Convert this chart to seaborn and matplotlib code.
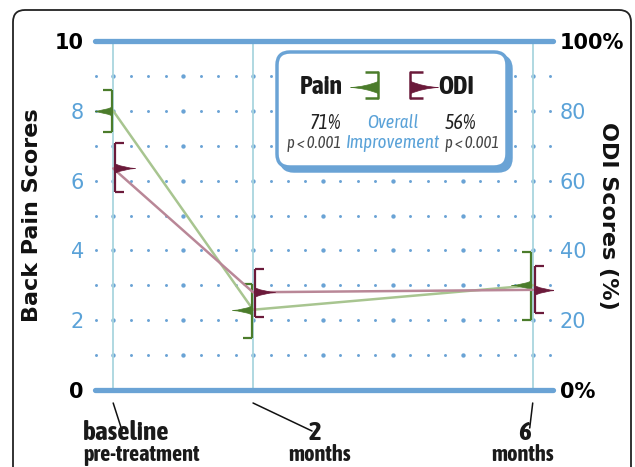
import numpy as np
import pandas as pd
import matplotlib
matplotlib.use('Agg')
import matplotlib.pyplot as plt
import matplotlib.transforms as mtransforms
from matplotlib.path import Path
from matplotlib.lines import Line2D
from matplotlib.patches import FancyBboxPatch
from matplotlib import font_manager
import seaborn as sns

# values
months = [0, 2, 6]
pain_mean = [8.0, 2.3, 3.0]
pain_low = [7.4, 1.5, 2.0]
pain_high = [8.6, 3.05, 3.95]
odi_mean = [63.5, 28.0, 28.7]
odi_low = [56.8, 20.8, 22.0]
odi_high = [70.7, 34.6, 35.6]

pain_ticks = [0, 2, 4, 6, 8, 10]
pain_ticklabels = ['0', '2', '4', '6', '8', '10']
odi_ticks = [0, 20, 40, 60, 80, 100]
odi_ticklabels = ['0%', '20', '40', '60', '80', '100%']
time_labels = ['baseline', '2', '6']
time_sublabels = ['pre-treatment', 'months', 'months']
pain_improvement = ['71%', 'p < 0.001']
odi_improvement = ['56%', 'p < 0.001']

BLUE = '#6aa3d5'
TICKBLUE = '#5aa2d8'
VLINE = '#a9d5de'
GREEN = '#4b7c2b'
GREEN_LINE = '#a8c590'
MAROON = '#6b1a3a'
MAROON_LINE = '#b98797'

sns.set_style('white')
names = {f.name for f in font_manager.fontManager.ttflist}
COND = 'DejaVu Sans'
for cand in ['Asap Condensed', 'Archivo Narrow', 'Barlow Condensed', 'Liberation Sans Narrow']:
    if cand in names:
        COND = cand
        break
plt.rcParams['font.family'] = ['DejaVu Sans']

# marker shapes
flag_left = Path([(0, 0.22), (-0.45, 0.03), (-1, 0), (-0.45, -0.03), (0, -0.22), (0, 0.22)],
                 [Path.MOVETO, Path.CURVE3, Path.CURVE3, Path.CURVE3, Path.CURVE3, Path.CLOSEPOLY])
flag_right = Path([(-x, y) for x, y in flag_left.vertices], flag_left.codes)
cap_left = Path([(0, 0), (-1, 0)], [Path.MOVETO, Path.LINETO])
cap_right = Path([(0, 0), (1, 0)], [Path.MOVETO, Path.LINETO])

fig = plt.figure(figsize=(6.35, 4.67), dpi=100)
ax = fig.add_axes([95 / 635, 1 - 390 / 467, 458 / 635, 349 / 467])
ax2 = ax.twinx()

def P(x, y):
    # pixel position in the picture -> inches for dpi_scale_trans
    return (x / 100, (467 - y) / 100)

# outer frame
x0, y0 = P(13, 490)
x1, y1 = P(631, 10)
fig.add_artist(FancyBboxPatch((x0, y0), x1 - x0, y1 - y0, boxstyle='round,pad=0,rounding_size=0.12',
                              transform=fig.dpi_scale_trans, fc='none', ec='#222222', lw=1.3))

ax.set_xlim(-0.26, 6.29)
ax.set_ylim(0, 10)
ax2.set_ylim(0, 100)
for a in (ax, ax2):
    for s in a.spines.values():
        s.set_visible(False)
    a.patch.set_visible(False)

# dotted background grid
gx, gy = np.meshgrid(np.arange(-0.25, 6.26, 0.25), np.arange(1, 10))
big = np.isclose(gx % 1, 0)
ax.scatter(gx[~big], gy[~big], s=4.5, color=BLUE, lw=0, zorder=1)
ax.scatter(gx[big], gy[big], s=10, color=BLUE, lw=0, zorder=1)

for m in months:
    ax.axvline(m, color=VLINE, lw=1.3, zorder=1)
for yv in (0, 10):
    ax.axhline(yv, color=BLUE, lw=3.8, solid_capstyle='round', clip_on=False, zorder=2)

# lines
df_pain = pd.DataFrame({'month': months, 'score': pain_mean})
df_odi = pd.DataFrame({'month': months, 'score': odi_mean})
sns.lineplot(data=df_pain, x='month', y='score', ax=ax, color=GREEN_LINE, lw=1.8, zorder=3)
sns.lineplot(data=df_odi, x='month', y='score', ax=ax2, color=MAROON_LINE, lw=1.8, zorder=3)

# error brackets and flags
off_p = mtransforms.offset_copy(ax.transData, fig=fig, x=-1.5, y=0, units='dots')
off_o = mtransforms.offset_copy(ax2.transData, fig=fig, x=2, y=0, units='dots')
ax.vlines(months, pain_low, pain_high, colors=GREEN, lw=1.6, transform=off_p, zorder=5)
ax2.vlines(months, odi_low, odi_high, colors=MAROON, lw=1.6, transform=off_o, zorder=5)
for yy in (pain_low, pain_high):
    ax.plot(months, yy, ls='none', marker=cap_left, ms=13, mec=GREEN, mfc='none', mew=1.6,
            transform=off_p, zorder=5)
for yy in (odi_low, odi_high):
    ax2.plot(months, yy, ls='none', marker=cap_right, ms=13, mec=MAROON, mfc='none', mew=1.6,
             transform=off_o, zorder=5)
ax.plot(months, pain_mean, ls='none', marker=flag_left, ms=29, color=GREEN, mec=GREEN, mew=0.5,
        transform=off_p, zorder=6)
ax2.plot(months, odi_mean, ls='none', marker=flag_right, ms=29, color=MAROON, mec=MAROON, mew=0.5,
         transform=off_o, zorder=6)

# y axes
ax.set_yticks(pain_ticks, pain_ticklabels)
ax.tick_params(axis='y', length=0, pad=8, labelsize=15)
for lab, t in zip(ax.get_yticklabels(), pain_ticks):
    if t in (0, 10):
        lab.set_fontweight('bold')
        lab.set_color('black')
    else:
        lab.set_color(TICKBLUE)
ax2.set_yticks(odi_ticks, odi_ticklabels)
ax2.tick_params(axis='y', length=0, pad=5, labelsize=15)
for lab, t in zip(ax2.get_yticklabels(), odi_ticks):
    if t in (0, 100):
        lab.set_fontweight('bold')
        lab.set_color('black')
    else:
        lab.set_color(TICKBLUE)
ax.set_ylabel('Back Pain Scores', fontsize=16, fontweight='bold', color='#111111')
ax.yaxis.set_label_coords(-0.116, 0.5)
ax2.set_ylabel('ODI Scores (%)', fontsize=16, fontweight='bold', rotation=270, va='center',
               color='#111111')
ax2.yaxis.set_label_coords(1.12, 0.5)

# x axis: minor ticks and custom labels
ax.set_xticks(np.arange(0, 6.01, 0.25), labels=[])
ax.tick_params(axis='x', direction='out', length=5.5, width=1.3, color=BLUE)
ax.set_xlabel('')
xt = ax.get_xaxis_transform()
lead_ends = [(9, -28), (59, -28), (-3, -25)]
main_pos = [(-30, -42, 'left'), (62, -43, 'center'), (-8, -43, 'center')]
sub_pos = [(-30, -65, 'left'), (67, -65, 'center'), (-10, -65, 'center')]
for m, lab, sub, le, mp, sp in zip(months, time_labels, time_sublabels, lead_ends, main_pos, sub_pos):
    start = xt + mtransforms.ScaledTranslation(0, -13 / 100, fig.dpi_scale_trans)
    ax.annotate('', xy=(m, 0), xycoords=start, xytext=le, textcoords='offset pixels',
                arrowprops=dict(arrowstyle='-', color='#111111', lw=1.1, shrinkA=0, shrinkB=0))
    ax.annotate(lab, xy=(m, 0), xycoords=xt, xytext=mp[:2], textcoords='offset pixels',
                ha=mp[2], va='center', fontsize=19.5, fontweight='bold', family=COND, color='#1a1a1a',
                annotation_clip=False)
    ax.annotate(sub, xy=(m, 0), xycoords=xt, xytext=sp[:2], textcoords='offset pixels',
                ha=sp[2], va='center', fontsize=16, fontweight='bold', family=COND, color='#1a1a1a',
                annotation_clip=False)

# legend box
bx0, by0 = P(277, 167)
bx1, by1 = P(507, 52)
fig.add_artist(FancyBboxPatch((bx0 + 0.04, by0 - 0.04), bx1 - bx0, by1 - by0,
                              boxstyle='round,pad=0,rounding_size=0.13', transform=fig.dpi_scale_trans,
                              fc=BLUE, ec=BLUE, lw=2.5))
fig.add_artist(FancyBboxPatch((bx0, by0), bx1 - bx0, by1 - by0,
                              boxstyle='round,pad=0,rounding_size=0.13', transform=fig.dpi_scale_trans,
                              fc='white', ec=BLUE, lw=2.5))
tr = fig.dpi_scale_trans
fig.text(*P(343, 87), 'Pain', transform=tr, ha='right', va='center', fontsize=18.5, fontweight='bold',
         family=COND, color='#1a1a1a')
fig.text(*P(438, 87), 'ODI', transform=tr, ha='left', va='center', fontsize=18.5, fontweight='bold',
         family=COND, color='#1a1a1a')
for (px, mk, cap, col) in [(378, flag_left, cap_left, GREEN), (410, flag_right, cap_right, MAROON)]:
    fig.add_artist(Line2D([P(px, 72)[0], P(px, 98)[0]], [P(px, 72)[1], P(px, 98)[1]],
                          transform=tr, color=col, lw=1.8))
    for py in (72, 98):
        fig.add_artist(Line2D([P(px, py)[0]], [P(px, py)[1]], transform=tr, ls='none', marker=cap,
                              ms=19, mec=col, mfc='none', mew=1.8))
    fig.add_artist(Line2D([P(px, 87)[0]], [P(px, 87)[1]], transform=tr, ls='none', marker=mk,
                          ms=40, color=col, mec=col, mew=0.5))
fig.text(*P(341, 123), pain_improvement[0], transform=tr, ha='right', va='center', fontsize=14.5,
         style='italic', family=COND, color='#222222')
fig.text(*P(341, 143), pain_improvement[1], transform=tr, ha='right', va='center', fontsize=12,
         style='italic', family=COND, color='#444444')
fig.text(*P(445, 123), odi_improvement[0], transform=tr, ha='left', va='center', fontsize=14.5,
         style='italic', family=COND, color='#222222')
fig.text(*P(445, 143), odi_improvement[1], transform=tr, ha='left', va='center', fontsize=12,
         style='italic', family=COND, color='#444444')
fig.text(*P(393, 123), 'Overall', transform=tr, ha='center', va='center', fontsize=13.5,
         style='italic', family=COND, color=TICKBLUE)
fig.text(*P(393, 143), 'Improvement', transform=tr, ha='center', va='center', fontsize=13.5,
         style='italic', family=COND, color=TICKBLUE)

fig.savefig('out.png', dpi=100, facecolor='white')
